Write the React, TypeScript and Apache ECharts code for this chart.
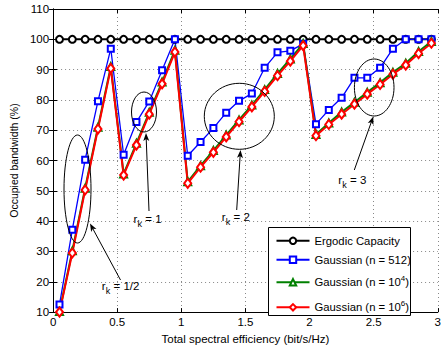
import React, { useEffect, useRef } from "react";
import * as echarts from "echarts";

const xValues = [
  0.05, 0.15, 0.25, 0.35, 0.45, 0.55, 0.65, 0.75, 0.85, 0.95,
  1.05, 1.15, 1.25, 1.35, 1.45, 1.55, 1.65, 1.75, 1.85, 1.95,
  2.05, 2.15, 2.25, 2.35, 2.45, 2.55, 2.65, 2.75, 2.85, 2.95,
];
const ergodic = [
  100, 100, 100, 100, 100, 100, 100, 100, 100, 100,
  100, 100, 100, 100, 100, 100, 100, 100, 100, 100,
  100, 100, 100, 100, 100, 100, 100, 100, 100, 100,
];
const gauss512 = [
  12.5, 37.2, 60.3, 79.6, 96.9, 61.9, 72.7, 79.5, 89.8, 100,
  61.6, 66.1, 70.7, 75.8, 79.7, 82.1, 90.6, 95.7, 96.2, 98.5,
  72.0, 76.7, 80.7, 87.3, 87.3, 90.6, 96.9, 100, 100, 100,
];
const gauss1e4 = [
  10.2, 30.2, 50.9, 71.0, 91.0, 55.6, 65.7, 75.9, 85.9, 96.4,
  53.0, 58.3, 63.3, 68.4, 73.4, 78.3, 83.4, 88.7, 93.5, 98.6,
  68.6, 72.4, 76.0, 79.2, 82.5, 85.7, 89.1, 92.1, 96.0, 99.3,
];
const gauss1e6 = [
  10.0, 29.5, 50.3, 70.4, 90.4, 55.2, 65.1, 75.3, 85.3, 95.8,
  52.5, 57.8, 62.7, 67.8, 72.8, 77.7, 82.8, 88.0, 92.8, 97.9,
  68.2, 71.9, 75.3, 78.6, 81.9, 85.1, 88.5, 91.5, 95.3, 98.7,
];
const seriesNames = [
  "Ergodic Capacity",
  "Gaussian (n = 512)",
  "Gaussian (n = 10^4)",
  "Gaussian (n = 10^6)",
];

const FONT = "'Liberation Sans', Arial, Helvetica, sans-serif";

function arrow(tail: number[], tip: number[]) {
  const dx = tip[0] - tail[0];
  const dy = tip[1] - tail[1];
  const len = Math.hypot(dx, dy);
  const ux = dx / len;
  const uy = dy / len;
  const L = 8;
  const W = 3;
  const bx = tip[0] - ux * L;
  const by = tip[1] - uy * L;
  const nx = tip[0] - ux * L * 0.75;
  const ny = tip[1] - uy * L * 0.75;
  return [
    {
      type: "line",
      shape: { x1: tail[0], y1: tail[1], x2: nx, y2: ny },
      style: { stroke: "#000", lineWidth: 1 },
      z: 30,
    },
    {
      type: "polygon",
      shape: {
        points: [
          [tip[0], tip[1]],
          [bx - uy * W, by + ux * W],
          [nx, ny],
          [bx + uy * W, by - ux * W],
        ],
      },
      style: { fill: "#000" },
      z: 30,
    },
  ];
}

function rkLabel(x: number, y: number, value: string) {
  const base = { fill: "#000", fontFamily: FONT, verticalAlign: "middle" };
  return [
    { type: "text", x, y, style: { ...base, text: "r", fontSize: 11.5 }, z: 30 },
    { type: "text", x: x + 4, y: y + 5, style: { ...base, text: "k", fontSize: 9 }, z: 30 },
    { type: "text", x: x + 11.8, y, style: { ...base, text: "= " + value, fontSize: 11.5 }, z: 30 },
  ];
}

function ellipse(cx: number, cy: number, rx: number, ry: number) {
  return {
    type: "ellipse",
    shape: { cx, cy, rx, ry },
    style: { fill: "none", stroke: "#000", lineWidth: 1 },
    z: 30,
  };
}

export default function App() {
  const ref = useRef<HTMLDivElement>(null);
  useEffect(() => {
    if (!ref.current) return;
    const chart = echarts.init(ref.current, null, { renderer: "svg" });

    const legendTops = [235.3, 254.3, 274.3, 299.3];
    const legends = seriesNames.map((name, i) => ({
      data: [name],
      left: 275.5,
      top: legendTops[i],
      padding: 0,
      itemWidth: 33,
      itemHeight: 8,
      selectedMode: false,
      z: 40,
      formatter: (n: string) => {
        const m = n.match(/^(.*10)\^(\d)(\))$/);
        if (m) return `{t|${m[1]}}{sup|${m[2]}}{t|${m[3]}}`;
        return `{t|${n}}`;
      },
      textStyle: {
        color: "#000",
        fontFamily: FONT,
        fontSize: 11.3,
        rich: {
          t: { fontSize: 11.3, fontFamily: FONT, color: "#000", lineHeight: 16 },
          sup: { fontSize: 8, fontFamily: FONT, color: "#000", lineHeight: 8, verticalAlign: "top" },
        },
      },
    }));

    const axisLine = { show: true, lineStyle: { color: "#000", width: 1 } };
    const splitLine = { show: true, lineStyle: { color: "#888", type: [1, 3], width: 1 } };
    const tick = { show: true, inside: true, length: 4, lineStyle: { color: "#000" } };

    const mk = (values: number[]) => xValues.map((x, j) => [x, values[j]]);

    chart.setOption({
      animation: false,
      backgroundColor: "#fff",
      grid: { left: 45, right: 4, top: 9, bottom: 29, containLabel: false },
      legend: legends,
      xAxis: [
        {
          type: "value",
          min: 0,
          max: 3,
          interval: 0.5,
          position: "bottom",
          axisLine,
          axisTick: tick,
          splitLine,
          axisLabel: { color: "#000", fontFamily: FONT, fontSize: 11.5, margin: 4 },
          name: "Total spectral efficiency (bit/s/Hz)",
          nameLocation: "middle",
          nameGap: 12,
          nameTextStyle: { color: "#000", fontFamily: FONT, fontSize: 11.5 },
        },
        {
          type: "value",
          min: 0,
          max: 3,
          interval: 0.5,
          position: "top",
          axisLine,
          axisTick: tick,
          splitLine: { show: false },
          axisLabel: { show: false },
        },
      ],
      yAxis: [
        {
          type: "value",
          min: 10,
          max: 110,
          interval: 10,
          position: "left",
          axisLine,
          axisTick: tick,
          splitLine,
          axisLabel: { color: "#000", fontFamily: FONT, fontSize: 11.5, margin: 4 },
          name: "Occupied bandwidth (%)",
          nameLocation: "middle",
          nameGap: 30,
          nameTextStyle: { color: "#000", fontFamily: FONT, fontSize: 10.5 },
        },
        {
          type: "value",
          min: 10,
          max: 110,
          interval: 10,
          position: "right",
          axisLine,
          axisTick: tick,
          splitLine: { show: false },
          axisLabel: { show: false },
        },
      ],
      series: [
        {
          name: seriesNames[0],
          type: "line",
          data: mk(ergodic),
          symbol: "emptyCircle",
          symbolSize: 7,
          lineStyle: { color: "#000", width: 2 },
          itemStyle: { color: "#000", borderWidth: 1.3 },
          emphasis: { disabled: true },
        },
        {
          name: seriesNames[1],
          type: "line",
          data: mk(gauss512),
          symbol: "emptyRect",
          symbolSize: 6,
          lineStyle: { color: "#0000ff", width: 1.3 },
          itemStyle: { color: "#0000ff", borderWidth: 1.3 },
          emphasis: { disabled: true },
        },
        {
          name: seriesNames[2],
          type: "line",
          data: mk(gauss1e4),
          symbol: "emptyTriangle",
          symbolSize: 7,
          lineStyle: { color: "#008000", width: 2 },
          itemStyle: { color: "#008000", borderWidth: 1.3 },
          emphasis: { disabled: true },
        },
        {
          name: seriesNames[3],
          type: "line",
          data: mk(gauss1e6),
          symbol: "emptyDiamond",
          symbolSize: [7, 9],
          lineStyle: { color: "#ff0000", width: 2 },
          itemStyle: { color: "#ff0000", borderWidth: 1.3 },
          emphasis: { disabled: true },
        },
      ],
      graphic: [
        {
          type: "rect",
          shape: { x: 268.5, y: 227.5, width: 142, height: 88 },
          style: { fill: "#fff", stroke: "#000", lineWidth: 1 },
          z: 20,
        },
        ellipse(77.5, 189, 13.5, 54),
        ellipse(144, 112, 12.5, 20),
        ellipse(239.3, 116.3, 35, 33),
        ellipse(374.2, 87.5, 19.8, 28.5),
        ...arrow([120.5, 280], [90, 223.5]),
        ...arrow([149, 211], [146, 133]),
        ...arrow([236.7, 210], [240.5, 150]),
        ...arrow([354.3, 170], [373.3, 116.5]),
        ...rkLabel(101.7, 286, "1/2"),
        ...rkLabel(133.5, 219, "1"),
        ...rkLabel(221.7, 217, "2"),
        ...rkLabel(338.3, 180, "3"),
      ],
    });
    return () => chart.dispose();
  }, []);
  return (
    <div
      ref={ref}
      style={{ position: "fixed", left: 0, top: 0, width: 444, height: 350, background: "#fff" }}
    />
  );
}
